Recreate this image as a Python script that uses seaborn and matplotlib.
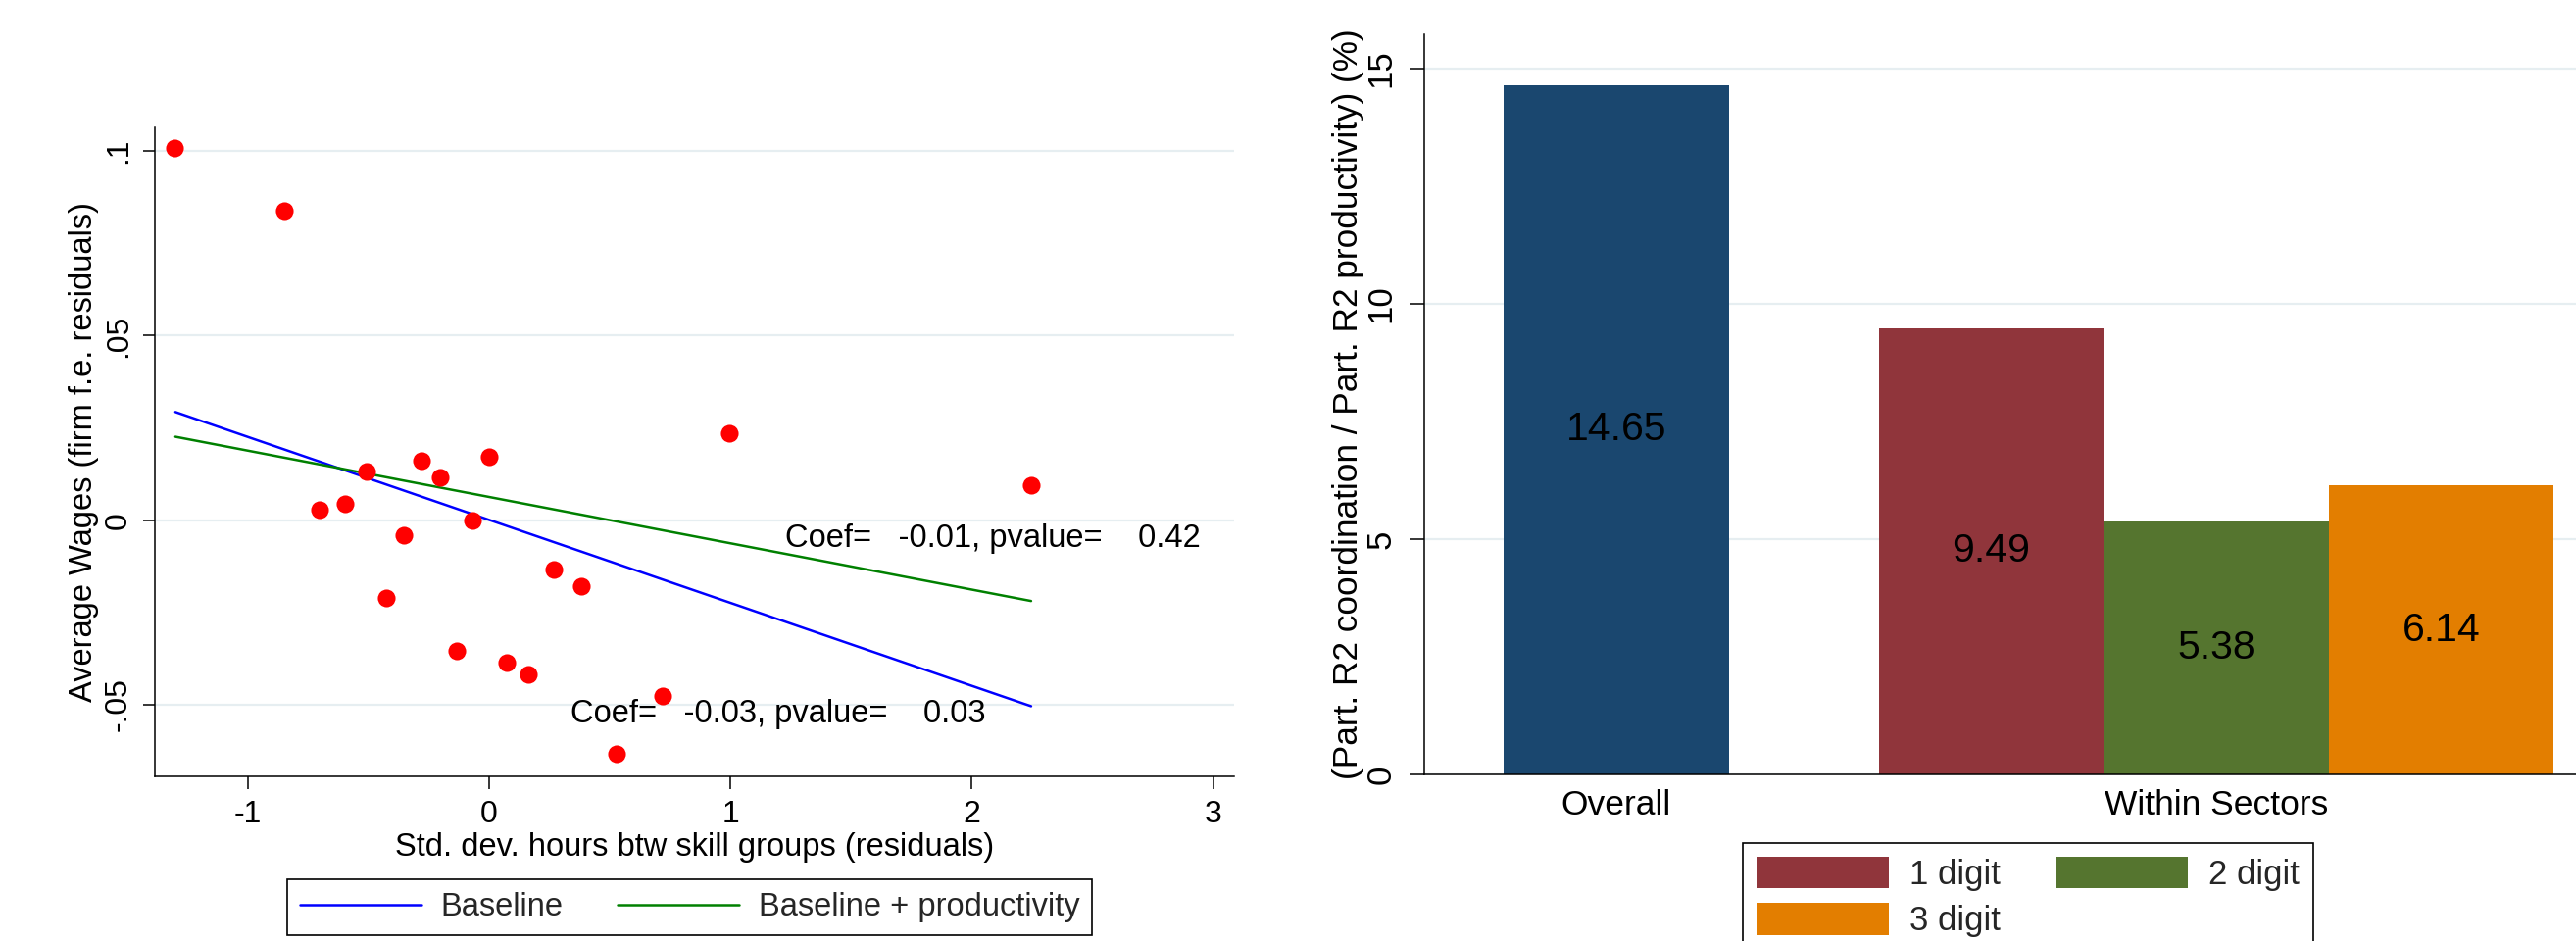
import numpy as np
import pandas as pd
import matplotlib
matplotlib.use("Agg")
import matplotlib.pyplot as plt
from matplotlib.lines import Line2D
from matplotlib.patches import Patch
import seaborn as sns

# ---------------- data: left panel ----------------
x_resid = [-1.303, -0.848, -0.704, -0.596, -0.508, -0.279, -0.205, -0.354, -0.428, -0.135,
           -0.067, 0.000, 0.074, 0.162, 0.269, 0.380, 0.529, 0.717, 0.997, 2.246]
y_resid = [0.1007, 0.0839, 0.0028, 0.0044, 0.0132, 0.0162, 0.0115, -0.0041, -0.0211, -0.0353,
           -0.0002, 0.0171, -0.0387, -0.0417, -0.0134, -0.0180, -0.0634, -0.0476, 0.0235, 0.0096]
fit_x = [-1.300, 2.246]
fit_baseline = [0.0293, -0.0504]
fit_productivity = [0.0226, -0.0219]
coef_baseline = "Coef=   -0.03, pvalue=    0.03"
coef_productivity = "Coef=   -0.01, pvalue=    0.42"
legend_left = ["Baseline", "Baseline + productivity"]
left_xticks = [-1, 0, 1, 2, 3]
left_yticks = [-0.05, 0, 0.05, 0.1]
left_yticklabels = ["-.05", "0", ".05", ".1"]
left_xlabel = "Std. dev. hours btw skill groups (residuals)"
left_ylabel = "Average Wages (firm f.e. residuals)"

# ---------------- data: right panel ----------------
bar_categories = ["Overall", "1 digit", "2 digit", "3 digit"]
bar_values = [14.65, 9.49, 5.38, 6.14]
group_labels = ["Overall", "Within Sectors"]
right_yticks = [0, 5, 10, 15]
right_ylabel = "(Part. R2 coordination / Part. R2 productivity) (%)"

# ---------------- style ----------------
sns.set_theme(style="ticks")
plt.rcParams["font.family"] = ["Liberation Sans", "DejaVu Sans"]

colors = {"Overall": "#1a476f", "1 digit": "#90353b", "2 digit": "#55752f", "3 digit": "#e37e00"}
grid_col = "#e6eef1"

W, H = 2628, 960
fig = plt.figure(figsize=(W / 100, H / 100), dpi=100)
fig.patch.set_facecolor("white")

# ================= left panel =================
ax1 = fig.add_axes([158 / W, 1 - 792 / H, (1259 - 158) / W, (792 - 130) / H])

sns.lineplot(x=fit_x, y=fit_baseline, ax=ax1, color="blue", lw=1.8, zorder=2)
sns.lineplot(x=fit_x, y=fit_productivity, ax=ax1, color="green", lw=1.8, zorder=2)
sns.scatterplot(x=x_resid, y=y_resid, ax=ax1, color="red", marker="o", s=170,
                linewidth=0, zorder=3)

ax1.set_xlim(-1.385, 3.087)
ax1.set_ylim(-0.0694, 0.1064)
ax1.set_xticks(left_xticks)
ax1.set_xticklabels([str(t) for t in left_xticks])
ax1.set_yticks(left_yticks)
ax1.set_yticklabels(left_yticklabels, rotation=90, va="center")
ax1.yaxis.grid(True, color=grid_col, lw=1.6)
ax1.xaxis.grid(False)
ax1.set_axisbelow(True)
ax1.tick_params(axis="both", direction="out", length=9, width=1.1, labelsize=23,
                color="black", labelcolor="black")
ax1.tick_params(axis="x", pad=8)
ax1.tick_params(axis="y", pad=7)
for s in ["top", "right"]:
    ax1.spines[s].set_visible(False)
for s in ["left", "bottom"]:
    ax1.spines[s].set_color("black")
    ax1.spines[s].set_linewidth(1.1)
ax1.set_xlabel(left_xlabel, fontsize=23.5, color="black")
ax1.set_ylabel(left_ylabel, fontsize=23.5, color="black")
ax1.xaxis.set_label_coords(0.5, -0.086)
ax1.yaxis.set_label_coords(-0.052, 0.5)

ax1.text(1.227, -0.0051, coef_productivity, fontsize=23.5, va="center", ha="left", color="black")
ax1.text(0.337, -0.0526, coef_baseline, fontsize=23.5, va="center", ha="left", color="black")

h_left = [Line2D([], [], color="blue", lw=1.8), Line2D([], [], color="green", lw=1.8)]
leg1 = fig.legend(h_left, legend_left, loc="upper left", bbox_to_anchor=(293 / W, 1 - 897 / H),
                  ncol=2, fontsize=23.5, handlelength=3.8, handletextpad=0.6, columnspacing=1.7,
                  frameon=True, fancybox=False, edgecolor="black", framealpha=1,
                  borderpad=0.4, borderaxespad=0)
leg1.get_frame().set_linewidth(1.2)

# ================= right panel =================
ax2 = fig.add_axes([1453 / W, 1 - 790 / H, (W - 1453) / W, (790 - 35) / H])
gap = 1.668
positions = [0.0] + [gap + i for i in range(len(bar_categories) - 1)]
df = pd.DataFrame({"category": bar_categories, "value": bar_values, "pos": positions})
sns.barplot(data=df, x="pos", y="value", hue="category", palette=colors, native_scale=True,
            dodge=False, width=1.0, errorbar=None, legend=False, ax=ax2, linewidth=0,
            saturation=1)
for cont in ax2.containers:
    ax2.bar_label(cont, fmt="%.2f", label_type="center", fontsize=29.5, color="black")

ax2.set_xlim(-0.853, 4.267)
ax2.set_ylim(0, 15.73)
ax2.set_xticks([0.0, float(np.mean(positions[1:]))])
ax2.set_xticklabels(group_labels)
ax2.set_yticks(right_yticks)
ax2.set_yticklabels([str(t) for t in right_yticks], rotation=90, va="center")
ax2.yaxis.grid(True, color=grid_col, lw=1.6)
ax2.xaxis.grid(False)
ax2.set_axisbelow(True)
ax2.tick_params(axis="y", direction="out", length=11, width=1.1, labelsize=25, pad=9,
                color="black", labelcolor="black")
ax2.tick_params(axis="x", length=0, labelsize=25.5, pad=11, labelcolor="black")
for s in ["top", "right"]:
    ax2.spines[s].set_visible(False)
for s in ["left", "bottom"]:
    ax2.spines[s].set_color("black")
    ax2.spines[s].set_linewidth(1.1)
ax2.set_xlabel("")
ax2.set_ylabel(right_ylabel, fontsize=25.4, color="black")
ax2.yaxis.set_label_coords(-0.052, 0.5)

legend_order = ["1 digit", "3 digit", "2 digit"]
h_right = [Patch(facecolor=colors[c], edgecolor="none") for c in legend_order]
leg2 = fig.legend(h_right, legend_order, loc="upper left", bbox_to_anchor=(1778 / W, 1 - 860 / H),
                  ncol=2, fontsize=25, handlelength=3.9, handleheight=1.06, handletextpad=0.6,
                  columnspacing=1.6, labelspacing=0.35, frameon=True, fancybox=False,
                  edgecolor="black", framealpha=1, borderpad=0.4, borderaxespad=0)
leg2.get_frame().set_linewidth(1.2)

fig.savefig("out.png", dpi=100, facecolor="white")
